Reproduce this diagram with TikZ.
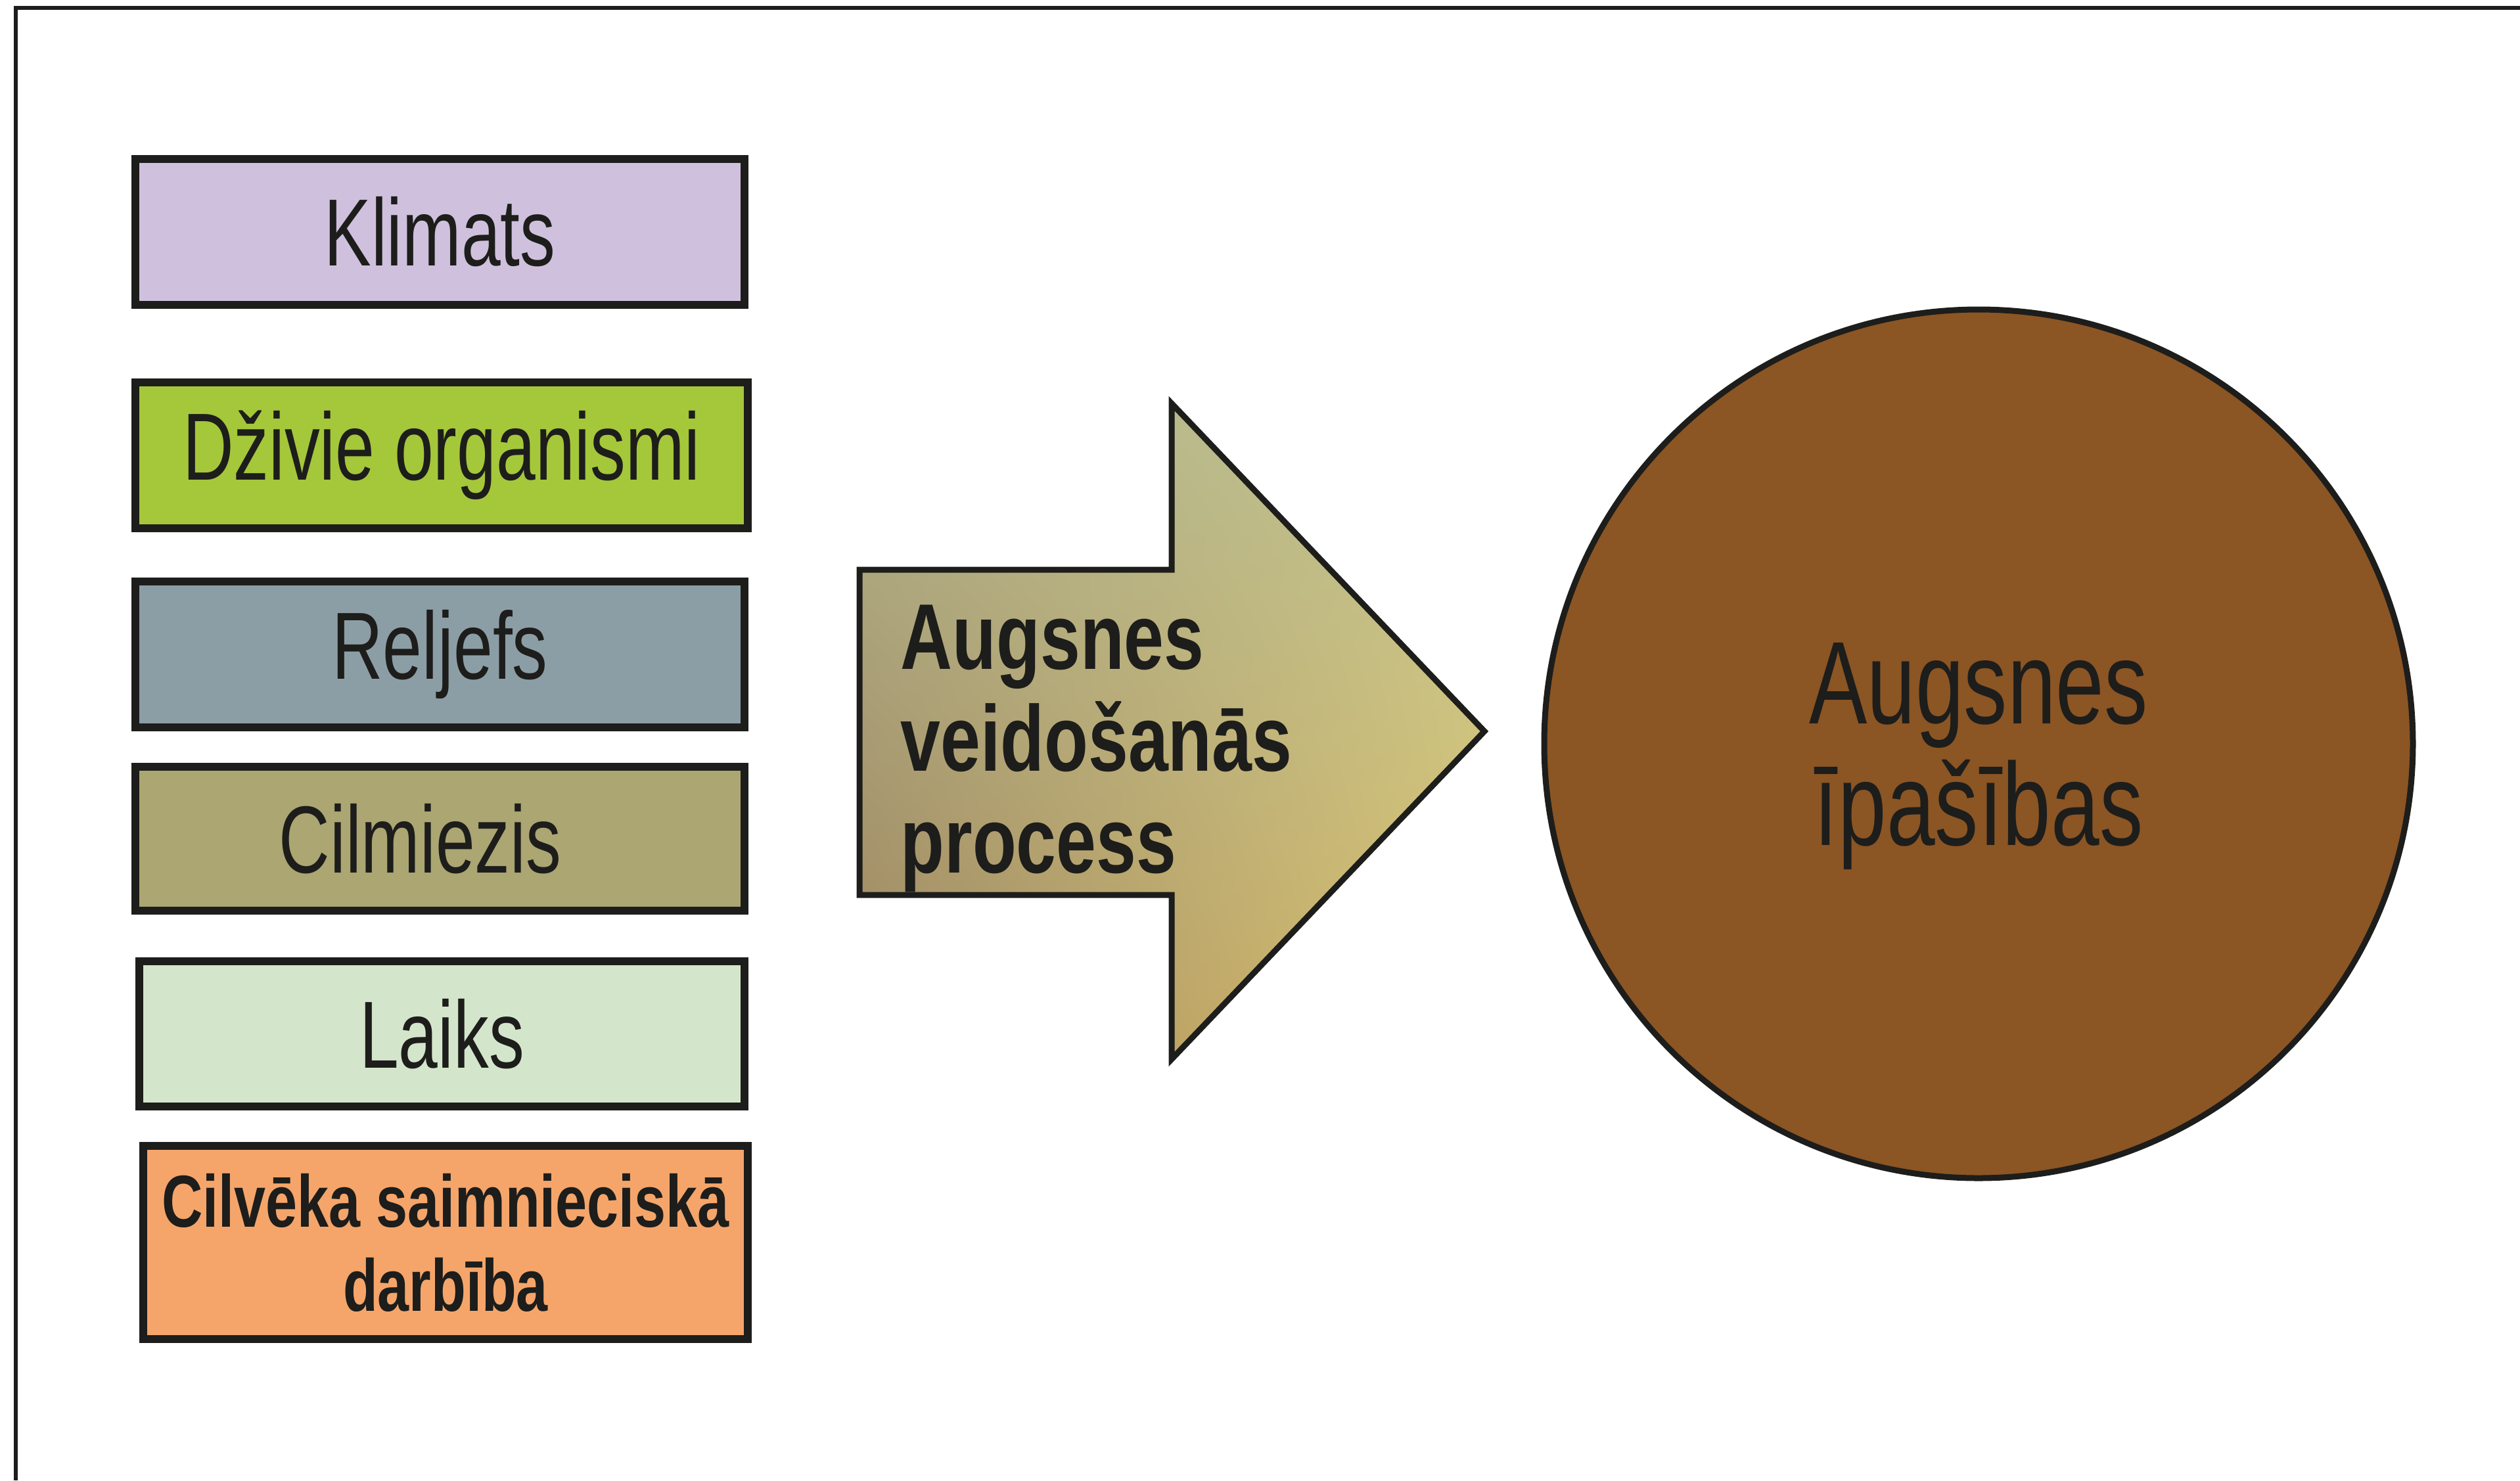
\documentclass[tikz,border=0pt]{standalone}
\usepackage{fontspec}
\newfontfamily\narrowsans[FakeStretch=0.74]{Liberation Sans}
\newfontfamily\narrowboldsans[FakeStretch=0.77]{Liberation Sans}
\usetikzlibrary{positioning,shadings}

\definecolor{inkblack}{HTML}{1D1D1B}
\definecolor{climate}{HTML}{CFC1DD}
\definecolor{organisms}{HTML}{A5C73A}
\definecolor{relief}{HTML}{8C9EA5}
\definecolor{parentrock}{HTML}{ABA672}
\definecolor{timegreen}{HTML}{D3E6CB}
\definecolor{humanorange}{HTML}{F5A56A}
\definecolor{soilbrown}{HTML}{8B5524}

\begin{document}
\begin{tikzpicture}
        % Define styles for nodes and shapes
        \tikzstyle{factor} = [rectangle, draw=inkblack, line width=1.2mm, text=inkblack, inner sep=0pt, minimum width=9.27cm, minimum height=2.22cm, font=\narrowsans\fontsize{41.3pt}{49pt}\selectfont]
        \tikzstyle{humanfactor} = [factor, align=center, font=\narrowboldsans\bfseries\fontsize{31.9pt}{36.4pt}\selectfont]
        \tikzstyle{soil} = [circle, draw=inkblack, line width=0.9mm, fill=soilbrown, text=inkblack, inner sep=0pt, minimum size=13.22cm, align=center, text depth=0pt, font=\narrowsans\fontsize{50.9pt}{52.6pt}\selectfont]
        \tikzstyle{processarrow} = [draw=inkblack, line width=0.9mm, upper left={rgb,255:red,176;green,176;blue,136}, upper right={rgb,255:red,194;green,197;blue,146}, lower left={rgb,255:red,160;green,134;blue,94}, lower right={rgb,255:red,220;green,194;blue,108}]
        \tikzstyle{processlabel} = [inner sep=0pt, align=left, text=inkblack, font=\narrowboldsans\bfseries\fontsize{40.4pt}{44.1pt}\selectfont]

        \useasboundingbox (0,0) rectangle (38.35,-22.53);

        % Frame
        \draw[inkblack, line width=0.6mm] (0.24,-22.53) -- (0.24,-0.12) -- (38.35,-0.12);

        % Nodes
        \node[factor, fill=climate] (klimats) at (6.695,-3.53) {Klimats};
        \node[factor, fill=organisms, minimum width=9.32cm, below of=klimats, node distance=3.395cm, xshift=0.025cm] (organismi) {Dživie organismi};
        \node[factor, fill=relief, below of=organismi, node distance=3.035cm, xshift=-0.025cm] (reljefs) {Reljefs};
        \node[factor, fill=parentrock, minimum height=2.19cm, below of=reljefs, node distance=2.805cm] (cilmiezis) {Cilmiezis\hspace*{0.6cm}};
        \node[factor, fill=timegreen, minimum width=9.21cm, minimum height=2.21cm, below of=cilmiezis, node distance=2.97cm, xshift=0.03cm] (laiks) {Laiks};
        \node[humanfactor, fill=humanorange, minimum width=9.2cm, minimum height=2.94cm, below of=laiks, node distance=3.175cm, xshift=0.055cm] (darbiba) {Cilvēka saimnieciskā\\darbība};

        % Process arrow
        \shadedraw[processarrow] (13.08,-8.67) -- (17.83,-8.67) -- (17.83,-6.14) -- (22.59,-11.13) -- (17.83,-16.12) -- (17.83,-13.62) -- (13.08,-13.62) -- cycle;
        \node[processlabel, anchor=north west] (veidosanas) at (13.70,-9.20) {Augsnes\\veidošanās\\process};

        % Soil properties
        \node[soil] (ipasibas) at (30.11,-11.32) {Augsnes\\īpašības};
\end{tikzpicture}
\end{document}
